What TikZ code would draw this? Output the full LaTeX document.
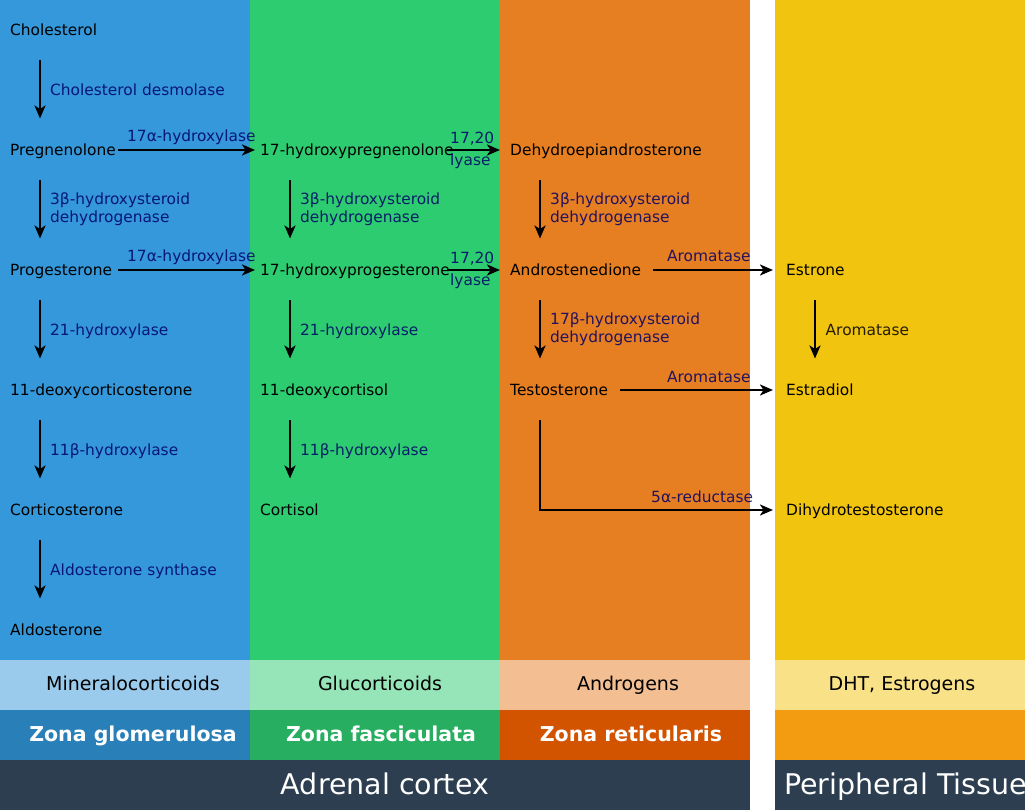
\documentclass[tikz,border=0pt]{standalone}
\usepackage{fontspec}
\setmainfont{DejaVu Sans}
\usetikzlibrary{arrows.meta}

\definecolor{glomblue}{HTML}{3498DB}
\definecolor{fascgreen}{HTML}{2ECC71}
\definecolor{reticorange}{HTML}{E67E22}
\definecolor{periyellow}{HTML}{F1C40F}
\definecolor{glomdark}{HTML}{2980B9}
\definecolor{fascdark}{HTML}{27AE60}
\definecolor{reticdark}{HTML}{D35400}
\definecolor{peridark}{HTML}{F39C12}
\definecolor{cortexnight}{HTML}{2C3E50}
\definecolor{enzymenavy}{HTML}{000066}

\tikzset{
  compound/.style={anchor=base west, inner sep=0pt, font=\fontsize{15.4}{18}\selectfont},
  enzyme/.style={compound, text=enzymenavy, text opacity=0.85, align=left},
  enzymetwo/.style={enzyme, anchor=west},
  reaction/.style={line width=2.6pt, -{Stealth[length=13pt,width=11pt,inset=3.5pt]}},
  hormone/.style={anchor=base, inner sep=0pt, font=\fontsize{19}{22}\selectfont},
  zonelabel/.style={anchor=base, inner sep=0pt, text=white, font=\bfseries\fontsize{20.5}{24}\selectfont},
  regionlabel/.style={anchor=base, inner sep=0pt, text=white, font=\fontsize{28.5}{32}\selectfont}
}

\begin{document}
\begin{tikzpicture}[x=1pt, y=-1pt]
    \useasboundingbox (0,0) rectangle (1025,810);
    \clip (0,0) rectangle (1025,810);
    % columns
    \fill[white] (0,0) rectangle (1025,810);
    \fill[glomblue] (0,0) rectangle (250,660);
    \fill[fascgreen] (250,0) rectangle (500,660);
    \fill[reticorange] (500,0) rectangle (750,660);
    \fill[periyellow] (775,0) rectangle (1025,660);
    \fill[glomblue!50!white] (0,660) rectangle (250,710);
    \fill[fascgreen!50!white] (250,660) rectangle (500,710);
    \fill[reticorange!50!white] (500,660) rectangle (750,710);
    \fill[periyellow!50!white] (775,660) rectangle (1025,710);
    \fill[glomdark] (0,710) rectangle (250,760);
    \fill[fascdark] (250,710) rectangle (500,760);
    \fill[reticdark] (500,710) rectangle (750,760);
    \fill[peridark] (775,710) rectangle (1025,760);
    \fill[cortexnight] (0,760) rectangle (750,810);
    \fill[cortexnight] (775,760) rectangle (1025,810);

    % zona glomerulosa
    \node[compound] (chol) at (10,35.5) {Cholesterol};
    \node[compound] (preg) at (10,155.5) {Pregnenolone};
    \node[compound] (prog) at (10,275.5) {Progesterone};
    \node[compound] (doc) at (10,395.5) {11-deoxycorticosterone};
    \node[compound] (cort) at (10,515.5) {Corticosterone};
    \node[compound] (aldo) at (10,635.5) {Aldosterone};
    % zona fasciculata
    \node[compound] (ohpreg) at (260,155.5) {17-hydroxypregnenolone};
    \node[compound] (ohprog) at (260,275.5) {17-hydroxyprogesterone};
    \node[compound] (dcortisol) at (260,395.5) {11-deoxycortisol};
    \node[compound] (cortisol) at (260,515.5) {Cortisol};
    % zona reticularis
    \node[compound] (dhea) at (510,155.5) {Dehydroepiandrosterone};
    \node[compound] (andro) at (510,275.5) {Androstenedione};
    \node[compound] (testo) at (510,395.5) {Testosterone};
    % peripheral tissue
    \node[compound] (estrone) at (786,275.5) {Estrone};
    \node[compound] (estradiol) at (786,395.5) {Estradiol};
    \node[compound] (dht) at (786,515.5) {Dihydrotestosterone};

    % downward steps
    \draw[reaction] ([xshift=30pt,yshift=-24.5pt]chol.base west) -- ([xshift=30pt,yshift=37pt]preg.base west);
    \draw[reaction] ([xshift=30pt,yshift=-24.5pt]preg.base west) -- ([xshift=30pt,yshift=37pt]prog.base west);
    \draw[reaction] ([xshift=30pt,yshift=-24.5pt]prog.base west) -- ([xshift=30pt,yshift=37pt]doc.base west);
    \draw[reaction] ([xshift=30pt,yshift=-24.5pt]doc.base west) -- ([xshift=30pt,yshift=37pt]cort.base west);
    \draw[reaction] ([xshift=30pt,yshift=-24.5pt]cort.base west) -- ([xshift=30pt,yshift=37pt]aldo.base west);
    \draw[reaction] ([xshift=30pt,yshift=-24.5pt]ohpreg.base west) -- ([xshift=30pt,yshift=37pt]ohprog.base west);
    \draw[reaction] ([xshift=30pt,yshift=-24.5pt]ohprog.base west) -- ([xshift=30pt,yshift=37pt]dcortisol.base west);
    \draw[reaction] ([xshift=30pt,yshift=-24.5pt]dcortisol.base west) -- ([xshift=30pt,yshift=37pt]cortisol.base west);
    \draw[reaction] ([xshift=30pt,yshift=-24.5pt]dhea.base west) -- ([xshift=30pt,yshift=37pt]andro.base west);
    \draw[reaction] ([xshift=30pt,yshift=-24.5pt]andro.base west) -- ([xshift=30pt,yshift=37pt]testo.base west);
    \draw[reaction] ([xshift=29pt,yshift=-24.5pt]estrone.base west) -- ([xshift=29pt,yshift=37pt]estradiol.base west);

    \node[enzyme] (desmolase) at (50,95.5) {Cholesterol desmolase};
    \node[enzymetwo] (hsdA) at (50,209.5) {3β-hydroxysteroid\\dehydrogenase};
    \node[enzyme] (hydroxA) at (50,335.5) {21-hydroxylase};
    \node[enzyme] (elevenA) at (50,455.5) {11β-hydroxylase};
    \node[enzyme] (synthase) at (50,575.5) {Aldosterone synthase};
    \node[enzymetwo] (hsdB) at (300,209.5) {3β-hydroxysteroid\\dehydrogenase};
    \node[enzyme] (hydroxB) at (300,335.5) {21-hydroxylase};
    \node[enzyme] (elevenB) at (300,455.5) {11β-hydroxylase};
    \node[enzymetwo] (hsdC) at (550,209.5) {3β-hydroxysteroid\\dehydrogenase};
    \node[enzymetwo] (hsdD) at (550,329.5) {17β-hydroxysteroid\\dehydrogenase};
    \node[enzyme, text=black] (aromA) at (825.5,335.5) {Aromatase};

    % sideways steps
    \draw[reaction] ([xshift=108pt,yshift=5.5pt]preg.base west) -- ([xshift=-5pt,yshift=5.5pt]ohpreg.base west);
    \draw[reaction] ([xshift=108pt,yshift=5.5pt]prog.base west) -- ([xshift=-5pt,yshift=5.5pt]ohprog.base west);
    \draw[reaction] ([xshift=187pt,yshift=5.5pt]ohpreg.base west) -- ([xshift=-10pt,yshift=5.5pt]dhea.base west);
    \draw[reaction] ([xshift=187pt,yshift=5.5pt]ohprog.base west) -- ([xshift=-10pt,yshift=5.5pt]andro.base west);
    \draw[reaction] ([xshift=143pt,yshift=5.5pt]andro.base west) -- ([xshift=-13pt,yshift=5.5pt]estrone.base west);
    \draw[reaction] ([xshift=110pt,yshift=5.5pt]testo.base west) -- ([xshift=-13pt,yshift=5.5pt]estradiol.base west);
    \draw[reaction] ([xshift=30pt,yshift=-24.5pt]testo.base west) |- ([xshift=-13pt,yshift=5.5pt]dht.base west);

    \node[enzyme] (hydroxC) at (127,142) {17α-hydroxylase};
    \node[enzyme] (hydroxD) at (127,262) {17α-hydroxylase};
    \node[enzyme] (lyaseA) at (450,143.5) {17,20};
    \node[enzyme] (lyaseB) at (450,166) {lyase};
    \node[enzyme] (lyaseC) at (450,263.5) {17,20};
    \node[enzyme] (lyaseD) at (450,286) {lyase};
    \node[enzyme] (aromB) at (667,262) {Aromatase};
    \node[enzyme] (aromC) at (667,382) {Aromatase};
    \node[enzyme] (reductase) at (651,502) {5α-reductase};

    % bottom bands
    \node[hormone] (mineral) at (133,690) {Mineralocorticoids};
    \node[hormone] (gluco) at (380,690) {Glucorticoids};
    \node[hormone] (androgens) at (628,690) {Androgens};
    \node[hormone] (estrogens) at (902,690) {DHT, Estrogens};
    \node[zonelabel] (glom) at (133,741) {Zona glomerulosa};
    \node[zonelabel] (fasc) at (381,741) {Zona fasciculata};
    \node[zonelabel] (retic) at (631,741) {Zona reticularis};
    \node[regionlabel] (cortex) at (385,794) {Adrenal cortex};
    \node[regionlabel, anchor=base west] (tissue) at (784,794) {Peripheral Tissue};
\end{tikzpicture}
\end{document}
